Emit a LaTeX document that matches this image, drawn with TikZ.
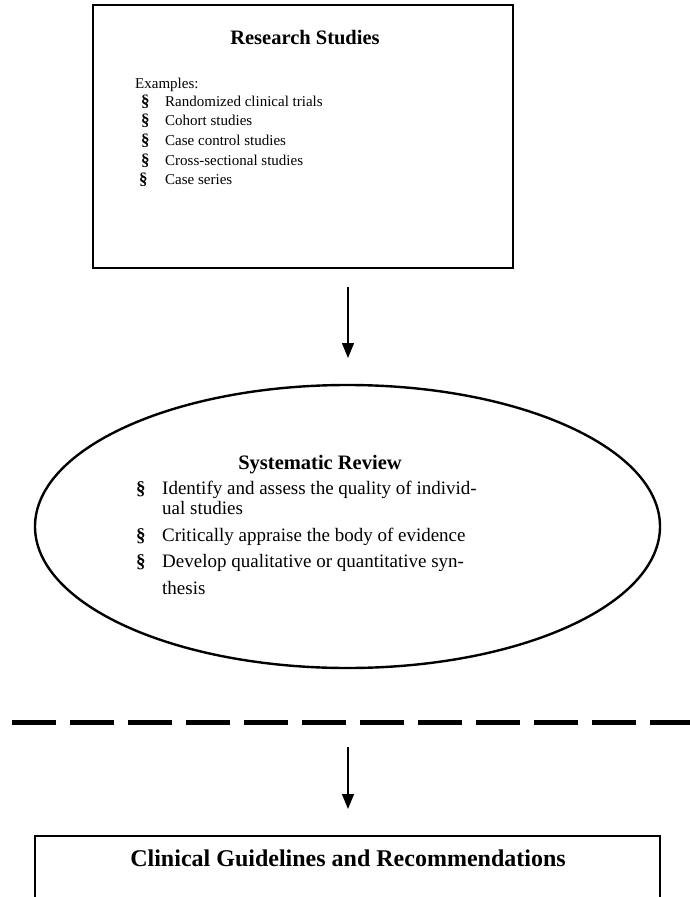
\documentclass[tikz,border=0pt]{standalone}
\usepackage{fontspec}
\setmainfont{Liberation Serif}
\usetikzlibrary{arrows.meta,shapes.geometric}
\tikzset{
  boxline/.style={draw=black,line width=1.5pt},
  flowarrow/.style={line width=1.3pt,-{Triangle[length=15pt,width=12pt]}},
  titletext/.style={font=\fontsize{20.5}{24}\selectfont\bfseries,anchor=base,inner sep=0pt},
  itemtext/.style={font=\fontsize{15}{18}\selectfont,anchor=base west,inner sep=0pt},
  bullettext/.style={font=\fontsize{17}{18}\selectfont\bfseries,anchor=base west,inner sep=0pt},
  eitemtext/.style={font=\fontsize{19}{20}\selectfont,anchor=base west,inner sep=0pt},
  ebullettext/.style={font=\fontsize{19}{20}\selectfont\bfseries,anchor=base west,inner sep=0pt},
}
\begin{document}
\begin{tikzpicture}[x=1pt,y=-1pt]
\useasboundingbox (0,0) rectangle (689,897);
% top box
\node[boxline,rectangle,minimum width=420pt,minimum height=263pt,inner sep=0pt] (research) at (303,136.5) {};
\node[titletext] (rtitle) at (305,44) {Research Studies};
\node[itemtext] (ex) at (135,88) {Examples:};
\node[bullettext] (b1) at (141,106) {§};
\node[itemtext] (t1) at (165,106) {Randomized clinical trials};
\node[bullettext] (b2) at (141,125.7) {§};
\node[itemtext] (t2) at (165,125.7) {Cohort studies};
\node[bullettext] (b3) at (141,145.4) {§};
\node[itemtext] (t3) at (165,145.4) {Case control studies};
\node[bullettext] (b4) at (141,165.1) {§};
\node[itemtext] (t4) at (165,165.1) {Cross-sectional studies};
\node[bullettext] (b5) at (139,184.8) {§};
\node[itemtext] (t5) at (165,184.8) {Case series};
% arrow 1
\coordinate (a1s) at (348,287);
\coordinate (a1e) at (348,358);
\draw[flowarrow] (a1s) -- (a1e);
% ellipse
\node[draw=black,line width=2.4pt,ellipse,minimum width=625pt,minimum height=283pt,inner sep=0pt] (review) at (347.5,526.5) {};
\node[titletext] (stitle) at (320,469) {Systematic Review};
\node[ebullettext] (e1) at (136,494) {§};
\node[eitemtext] (u1) at (162,494) {Identify and assess the quality of individ-};
\node[eitemtext] (u1b) at (162,514) {ual studies};
\node[ebullettext] (e2) at (136,541) {§};
\node[eitemtext] (u2) at (162,541) {Critically appraise the body of evidence};
\node[ebullettext] (e3) at (136,567) {§};
\node[eitemtext] (u3) at (162,567) {Develop qualitative or quantitative syn-};
\node[eitemtext] (u3b) at (162,594) {thesis};
% dashed divider
\coordinate (dl) at (12,722);
\coordinate (dr) at (692,722);
\draw[line width=5pt,dash pattern=on 44pt off 14pt] (dl) -- (dr);
% arrow 2
\coordinate (a2s) at (348,747);
\coordinate (a2e) at (348,809);
\draw[flowarrow] (a2s) -- (a2e);
% bottom box (open at the bottom edge)
\coordinate (bl) at (35,900);
\coordinate (br) at (660,900);
\coordinate (bt) at (660,836);
\draw[boxline] (bl) |- (bt) -- (br);
\node[titletext,font=\fontsize{24}{28}\selectfont\bfseries] (ctitle) at (348,866) {Clinical Guidelines and Recommendations};
\end{tikzpicture}
\end{document}
